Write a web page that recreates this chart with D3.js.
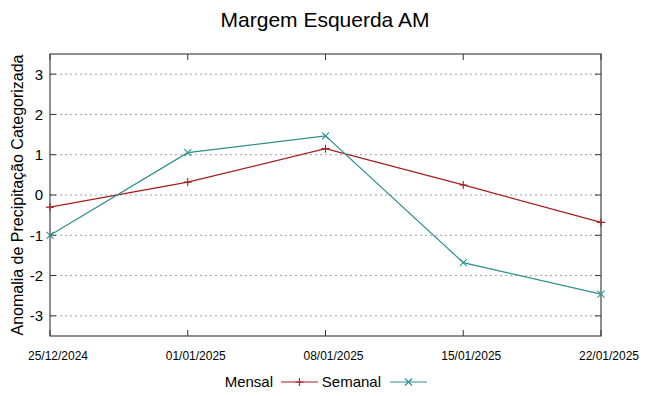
<!DOCTYPE html>
<html>
<head>
<meta charset="utf-8">
<script src="https://cdn.jsdelivr.net/npm/d3@7"></script>
<style>
	body { margin: 0; background: #fff; }
	svg { font-family: "Liberation Sans", Arial, sans-serif; }
</style>
</head>
<body>
<svg width="649" height="396"></svg>
<script>
var dates = ["25/12/2024", "01/01/2025", "08/01/2025", "15/01/2025", "22/01/2025"];
var mensal = [-0.30, 0.32, 1.15, 0.25, -0.68];
var semanal = [-1.00, 1.05, 1.47, -1.68, -2.46];
var yTicks = [-3, -2, -1, 0, 1, 2, 3];

(function () {
	var svg = d3.select("svg");
	var margin = { top: 54, right: 48, bottom: 60, left: 50 },
		width = +svg.attr("width") - margin.left - margin.right,
		height = +svg.attr("height") - margin.top - margin.bottom;

	var parse = d3.timeParse("%d/%m/%Y");
	var xs = dates.map(parse);

	var x = d3.scaleTime().domain([xs[0], xs[xs.length - 1]]).range([0, width]);
	var y = d3.scaleLinear().domain([-3.5, 3.5]).range([height, 0]);

	var g = svg.append("g").attr("transform", "translate(" + margin.left + "," + margin.top + ")");

	// grid
	g.selectAll(".grid")
		.data(yTicks)
		.enter().append("line")
		.attr("x1", 0).attr("x2", width)
		.attr("y1", d => y(d)).attr("y2", d => y(d))
		.attr("stroke", "#a0a0a0")
		.attr("stroke-width", 1)
		.attr("stroke-dasharray", "2,3");

	// ticks (inward, mirrored)
	g.selectAll(".ytl").data(yTicks).enter().append("line")
		.attr("x1", 0).attr("x2", 6).attr("y1", d => y(d)).attr("y2", d => y(d))
		.attr("stroke", "#333");
	g.selectAll(".ytr").data(yTicks).enter().append("line")
		.attr("x1", width - 6).attr("x2", width).attr("y1", d => y(d)).attr("y2", d => y(d))
		.attr("stroke", "#333");
	g.selectAll(".xtb").data(xs).enter().append("line")
		.attr("x1", d => x(d)).attr("x2", d => x(d)).attr("y1", height).attr("y2", height - 6)
		.attr("stroke", "#333");
	g.selectAll(".xtt").data(xs).enter().append("line")
		.attr("x1", d => x(d)).attr("x2", d => x(d)).attr("y1", 0).attr("y2", 6)
		.attr("stroke", "#333");

	// tick labels
	g.selectAll(".ylab").data(yTicks).enter().append("text")
		.attr("x", -7).attr("y", d => y(d)).attr("dy", "0.36em")
		.attr("text-anchor", "end")
		.style("font-size", "15px")
		.text(d => d);
	g.selectAll(".xlab").data(xs).enter().append("text")
		.attr("x", d => x(d) + 8).attr("y", height + 24)
		.attr("text-anchor", "middle")
		.style("font-size", "12px")
		.text((d, i) => dates[i]);

	// frame
	g.append("rect")
		.attr("width", width).attr("height", height)
		.attr("fill", "none").attr("stroke", "#444").attr("stroke-width", 1.2);

	var series = [
		{ name: "Mensal", values: mensal, color: "#a61c20", marker: "plus" },
		{ name: "Semanal", values: semanal, color: "#2f8f8f", marker: "cross" }
	];

	var line = d3.line()
		.x((d, i) => x(xs[i]))
		.y(d => y(d));

	function marker(sel, type, color) {
		var s = 4;
		if (type === "plus") {
			sel.append("path").attr("d", "M" + (-s) + ",0H" + s + "M0," + (-s) + "V" + s);
		} else {
			s = 3.5;
			sel.append("path").attr("d", "M" + (-s) + "," + (-s) + "L" + s + "," + s + "M" + (-s) + "," + s + "L" + s + "," + (-s));
		}
		sel.selectAll("path").attr("stroke", color).attr("stroke-width", 1.1).attr("fill", "none");
	}

	series.forEach(function (s) {
		g.append("path")
			.datum(s.values)
			.attr("fill", "none")
			.attr("stroke", s.color)
			.attr("stroke-width", 1.2)
			.attr("d", line);
		g.selectAll(".pt-" + s.marker)
			.data(s.values)
			.enter().append("g")
			.attr("transform", (d, i) => "translate(" + x(xs[i]) + "," + y(d) + ")")
			.each(function () { marker(d3.select(this), s.marker, s.color); });
	});

	// title
	svg.append("text")
		.attr("x", 325).attr("y", 27)
		.attr("text-anchor", "middle")
		.style("font-size", "21px")
		.text("Margem Esquerda AM");

	// y axis title
	svg.append("text")
		.attr("transform", "translate(23," + (margin.top + height / 2) + ") rotate(-90)")
		.attr("text-anchor", "middle")
		.style("font-size", "16px")
		.text("Anomalia de Precipitação Categorizada");

	// legend
	var lg = svg.append("g").attr("transform", "translate(0,382)");
	var items = [
		{ s: series[0], tx: 273, lx1: 281, lx2: 318 },
		{ s: series[1], tx: 381, lx1: 390, lx2: 427 }
	];
	items.forEach(function (it) {
		lg.append("text").attr("x", it.tx).attr("y", 5)
			.attr("text-anchor", "end").style("font-size", "15px").text(it.s.name);
		lg.append("line").attr("x1", it.lx1).attr("x2", it.lx2).attr("y1", 0).attr("y2", 0)
			.attr("stroke", it.s.color).attr("stroke-width", 1.2);
		var mg = lg.append("g").attr("transform", "translate(" + ((it.lx1 + it.lx2) / 2) + ",0)");
		marker(mg, it.s.marker, it.s.color);
	});
})();
</script>
</body>
</html>
